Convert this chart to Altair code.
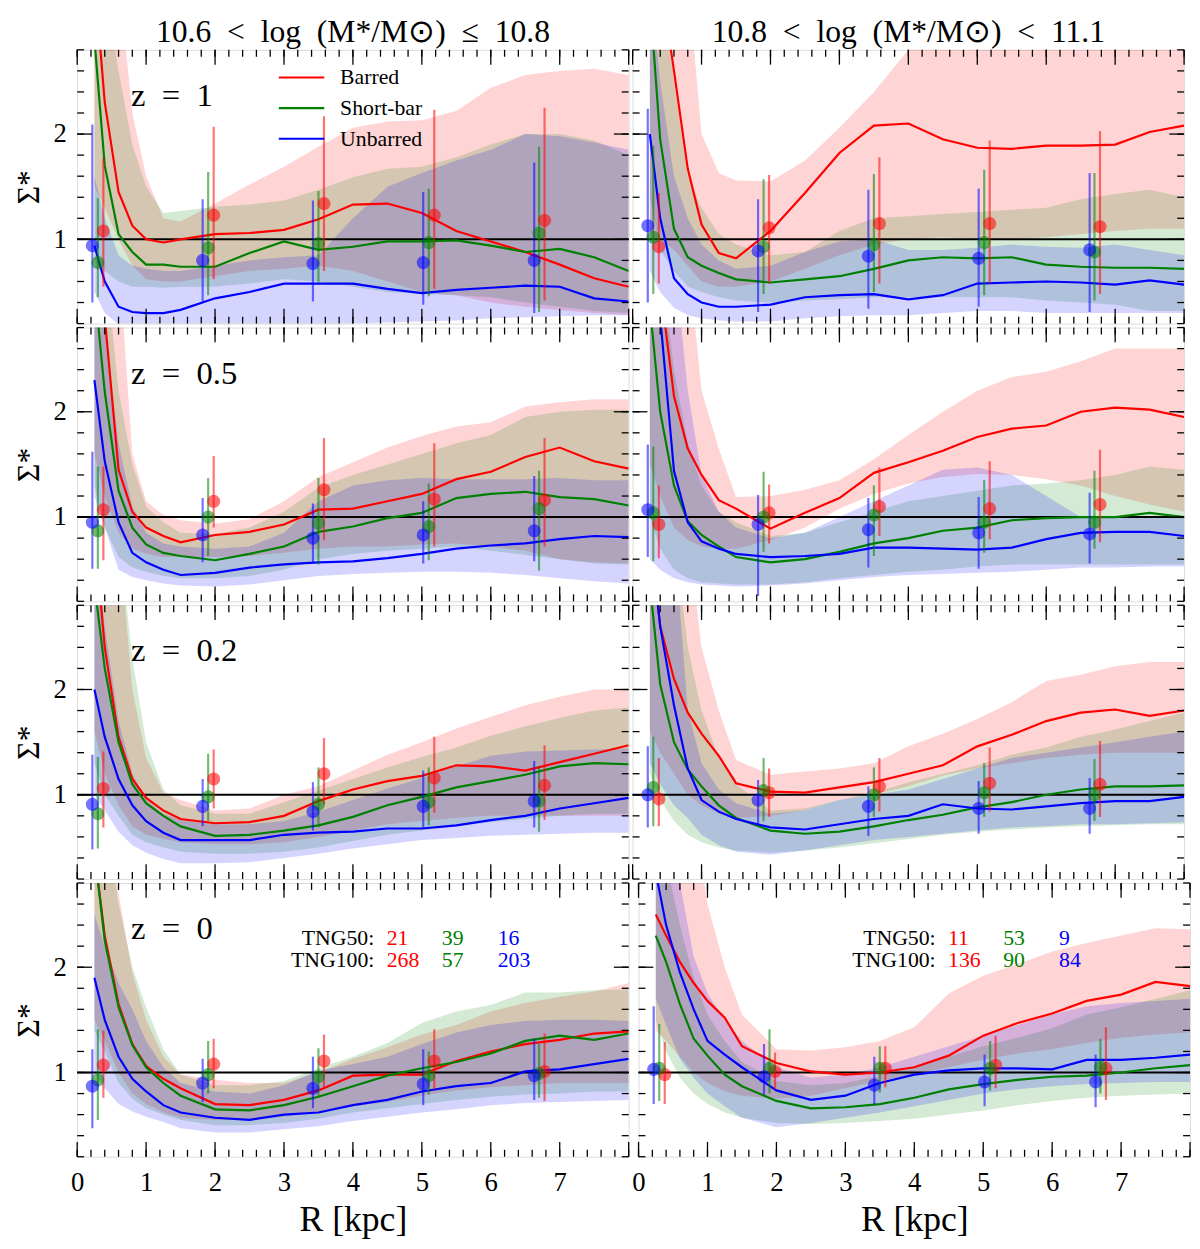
import altair as alt
import pandas as pd

FONT = "Liberation Serif"

SERIES = ["Barred", "Short-bar", "Unbarred"]
COLORS = ["#ff0000", "#008000", "#0000ff"]

R_GRID = [0.25, 0.4, 0.6, 0.8, 1.0, 1.25, 1.5, 2.0, 2.5, 3.0, 3.5, 4.0, 4.5, 5.0, 5.5, 6.0, 6.5, 7.0, 7.5, 8.0]

PT_R_BARRED = [0.38, 1.98, 3.58, 5.18, 6.78]
PT_R_SHORT = [0.30, 1.90, 3.50, 5.10, 6.70]
PT_R_UNBARRED = [0.22, 1.82, 3.42, 5.02, 6.63]

SP = "\u2002"
COL_TITLES = ["10.6" + SP + "<" + SP + "log" + SP + "(M*/M\u2299)" + SP + "\u2264" + SP + "10.8",
              "10.8" + SP + "<" + SP + "log" + SP + "(M*/M\u2299)" + SP + "<" + SP + "11.1"]
ROW_LABELS = ["z" + SP + "=" + SP + "1", "z" + SP + "=" + SP + "0.5",
              "z" + SP + "=" + SP + "0.2", "z" + SP + "=" + SP + "0"]
SIM_LABELS = ["TNG50:", "TNG100:"]
COUNTS_LEFT = [["21", "39", "16"], ["268", "57", "203"]]
COUNTS_RIGHT = [["11", "53", "9"], ["136", "90", "84"]]

X_MAJOR = [0, 1, 2, 3, 4, 5, 6, 7, 8]
X_MINOR = [round(0.2 * i, 1) for i in range(41)]
Y_MAJOR = [1, 2]
Y_MINOR = [round(0.2 * i, 1) for i in range(1, 15)]

# ---------------- z = 1, low mass ----------------
z1a_bar = [3.5, 2.3, 1.45, 1.13, 1.0, 0.97, 1.0, 1.05, 1.06, 1.09, 1.19, 1.33, 1.34, 1.25, 1.08, 0.98, 0.88, 0.76, 0.63, 0.55]
z1a_bar_lo = [1.5, 1.3, 1.0, 0.75, 0.62, 0.6, 0.6, 0.65, 0.7, 0.72, 0.75, 0.7, 0.6, 0.5, 0.47, 0.4, 0.36, 0.33, 0.3, 0.28]
z1a_bar_hi = [3.5, 3.5, 3.5, 2.2, 1.6, 1.2, 1.17, 1.34, 1.52, 1.69, 1.88, 2.06, 2.12, 2.13, 2.22, 2.44, 2.56, 2.6, 2.62, 2.56]
z1a_sb = [2.9, 1.7, 1.05, 0.88, 0.76, 0.76, 0.74, 0.74, 0.87, 0.98, 0.9, 0.93, 0.98, 0.98, 0.99, 0.94, 0.88, 0.91, 0.83, 0.70]
z1a_sb_lo = [0.8, 0.7, 0.6, 0.55, 0.55, 0.54, 0.55, 0.55, 0.58, 0.62, 0.6, 0.55, 0.5, 0.48, 0.47, 0.45, 0.4, 0.36, 0.32, 0.3]
z1a_sb_hi = [3.5, 3.5, 2.6, 1.9, 1.5, 1.25, 1.27, 1.31, 1.33, 1.37, 1.47, 1.59, 1.67, 1.69, 1.78, 1.9, 2.0, 2.0, 1.94, 1.8]
z1a_ub = [0.94, 0.6, 0.36, 0.31, 0.30, 0.30, 0.33, 0.44, 0.5, 0.58, 0.58, 0.58, 0.53, 0.49, 0.52, 0.54, 0.56, 0.55, 0.44, 0.41]
z1a_ub_lo = [0.5, 0.3, 0.19, 0.18, 0.18, 0.18, 0.18, 0.18, 0.18, 0.18, 0.19, 0.2, 0.21, 0.22, 0.23, 0.25, 0.26, 0.27, 0.28, 0.28]
z1a_ub_hi = [1.6, 1.2, 0.85, 0.75, 0.72, 0.7, 0.7, 0.75, 0.8, 0.83, 0.85, 1.2, 1.5, 1.63, 1.75, 1.85, 2.0, 1.98, 1.92, 1.85]
z1a_bar_pt = [1.08, 1.23, 1.34, 1.23, 1.18]
z1a_bar_pt_lo = [0.55, 0.62, 0.7, 0.53, 0.42]
z1a_bar_pt_hi = [1.77, 2.07, 2.17, 2.23, 2.25]
z1a_sb_pt = [0.78, 0.92, 0.96, 0.97, 1.06]
z1a_sb_pt_lo = [0.45, 0.47, 0.59, 0.46, 0.31]
z1a_sb_pt_hi = [1.39, 1.64, 1.46, 1.48, 1.88]
z1a_ub_pt = [0.94, 0.8, 0.77, 0.78, 0.8]
z1a_ub_pt_lo = [0.4, 0.41, 0.41, 0.38, 0.3]
z1a_ub_pt_hi = [2.09, 1.38, 1.37, 1.45, 1.73]

# ---------------- z = 1, high mass ----------------
z1b_bar = [3.5, 3.5, 2.6, 1.67, 1.14, 0.87, 0.82, 1.08, 1.44, 1.82, 2.08, 2.1, 1.95, 1.87, 1.86, 1.89, 1.89, 1.9, 2.02, 2.08]
z1b_bar_lo = [1.0, 1.0, 0.9, 0.75, 0.6, 0.55, 0.55, 0.6, 0.72, 0.85, 0.95, 1.0, 1.02, 1.0, 1.0, 1.02, 1.05, 1.08, 1.1, 1.1]
z1b_bar_hi = [3.5, 3.5, 3.5, 3.5, 2.0, 1.63, 1.56, 1.55, 1.75, 2.06, 2.4, 2.8, 3.5, 3.5, 3.5, 3.5, 3.5, 3.5, 3.5, 3.5]
z1b_sb = [3.3, 1.95, 1.1, 0.83, 0.75, 0.68, 0.62, 0.59, 0.62, 0.65, 0.72, 0.8, 0.83, 0.82, 0.83, 0.76, 0.74, 0.73, 0.73, 0.72]
z1b_sb_lo = [1.4, 0.9, 0.7, 0.55, 0.5, 0.45, 0.42, 0.4, 0.42, 0.43, 0.45, 0.45, 0.45, 0.45, 0.45, 0.42, 0.4, 0.38, 0.32, 0.32]
z1b_sb_hi = [3.5, 3.5, 2.5, 1.6, 1.3, 1.05, 0.95, 0.85, 0.88, 1.08, 1.2, 1.22, 1.24, 1.26, 1.28, 1.3, 1.38, 1.43, 1.47, 1.4]
z1b_ub = [2.0, 1.2, 0.63, 0.48, 0.4, 0.36, 0.36, 0.38, 0.45, 0.47, 0.48, 0.43, 0.47, 0.58, 0.59, 0.6, 0.59, 0.57, 0.61, 0.57]
z1b_ub_lo = [0.7, 0.5, 0.35, 0.28, 0.25, 0.23, 0.22, 0.22, 0.25, 0.27, 0.28, 0.28, 0.3, 0.32, 0.32, 0.3, 0.3, 0.3, 0.3, 0.3]
z1b_ub_hi = [3.5, 2.5, 1.6, 1.2, 0.95, 0.8, 0.72, 0.75, 0.88, 0.98, 1.0, 0.9, 0.9, 0.92, 0.95, 0.93, 0.92, 0.95, 0.9, 0.85]
z1b_bar_pt = [0.93, 1.11, 1.15, 1.15, 1.12]
z1b_bar_pt_lo = [0.58, 0.58, 0.58, 0.58, 0.48]
z1b_bar_pt_hi = [1.44, 1.61, 1.78, 1.94, 2.03]
z1b_sb_pt = [1.02, 0.93, 0.95, 0.97, 0.88]
z1b_sb_pt_lo = [0.48, 0.48, 0.5, 0.47, 0.42]
z1b_sb_pt_hi = [1.89, 1.57, 1.62, 1.66, 1.63]
z1b_ub_pt = [1.13, 0.89, 0.84, 0.82, 0.9]
z1b_ub_pt_lo = [0.4, 0.31, 0.34, 0.36, 0.31]
z1b_ub_pt_hi = [2.24, 1.38, 1.47, 1.48, 1.63]

# ---------------- z = 0.5, low mass ----------------
z05a_bar = [3.5, 2.9, 1.45, 1.05, 0.9, 0.82, 0.76, 0.83, 0.86, 0.93, 1.07, 1.08, 1.15, 1.22, 1.36, 1.43, 1.57, 1.66, 1.53, 1.46]
z05a_bar_lo = [1.6, 1.2, 0.85, 0.7, 0.65, 0.62, 0.62, 0.62, 0.63, 0.66, 0.7, 0.72, 0.72, 0.74, 0.75, 0.72, 0.68, 0.6, 0.57, 0.56]
z05a_bar_hi = [3.5, 3.5, 3.5, 1.6, 1.15, 1.02, 0.97, 0.94, 0.98, 1.15, 1.38, 1.52, 1.66, 1.77, 1.86, 1.9, 2.05, 2.09, 2.12, 2.12]
z05a_sb = [3.2, 2.19, 1.25, 0.9, 0.74, 0.66, 0.63, 0.59, 0.65, 0.72, 0.86, 0.91, 0.99, 1.04, 1.18, 1.22, 1.24, 1.19, 1.17, 1.11]
z05a_sb_lo = [1.3, 0.9, 0.62, 0.52, 0.48, 0.44, 0.42, 0.42, 0.44, 0.5, 0.6, 0.65, 0.68, 0.7, 0.72, 0.68, 0.64, 0.6, 0.56, 0.55]
z05a_sb_hi = [3.5, 3.5, 2.2, 1.5, 1.1, 0.95, 0.85, 0.84, 0.9, 1.05, 1.28, 1.4, 1.5, 1.6, 1.7, 1.78, 1.95, 2.0, 2.02, 2.02]
z05a_ub = [2.3, 1.53, 0.95, 0.66, 0.57, 0.5, 0.45, 0.47, 0.52, 0.55, 0.57, 0.58, 0.61, 0.65, 0.7, 0.73, 0.75, 0.79, 0.82, 0.81]
z05a_ub_lo = [1.2, 0.9, 0.5, 0.43, 0.4, 0.37, 0.35, 0.34, 0.36, 0.4, 0.44, 0.46, 0.47, 0.48, 0.48, 0.47, 0.45, 0.42, 0.39, 0.37]
z05a_ub_hi = [3.5, 2.8, 1.7, 1.1, 0.85, 0.75, 0.72, 0.7, 0.72, 0.85, 1.15, 1.3, 1.35, 1.37, 1.36, 1.36, 1.36, 1.37, 1.35, 1.35]
z05a_bar_pt = [1.07, 1.15, 1.26, 1.17, 1.16]
z05a_bar_pt_lo = [0.59, 0.9, 0.78, 0.72, 0.72]
z05a_bar_pt_hi = [1.48, 1.58, 1.75, 1.7, 1.75]
z05a_sb_pt = [0.87, 1.0, 0.94, 0.91, 1.08]
z05a_sb_pt_lo = [0.51, 0.63, 0.55, 0.59, 0.49]
z05a_sb_pt_hi = [1.48, 1.37, 1.37, 1.32, 1.44]
z05a_ub_pt = [0.95, 0.83, 0.8, 0.83, 0.87]
z05a_ub_pt_lo = [0.51, 0.57, 0.57, 0.56, 0.58]
z05a_ub_pt_hi = [1.62, 1.18, 1.13, 1.15, 1.39]

# ---------------- z = 0.5, high mass ----------------
z05b_bar = [3.5, 3.2, 2.15, 1.65, 1.4, 1.16, 1.08, 0.89, 1.04, 1.18, 1.42, 1.52, 1.63, 1.76, 1.84, 1.87, 2.0, 2.04, 2.02, 1.95]
z05b_bar_lo = [1.5, 1.2, 0.9, 0.78, 0.72, 0.7, 0.7, 0.78, 0.9, 1.08, 1.22, 1.32, 1.38, 1.41, 1.4, 1.36, 1.3, 1.2, 1.12, 1.05]
z05b_bar_hi = [3.5, 3.5, 3.5, 3.5, 2.2, 1.65, 1.19, 1.2, 1.26, 1.35, 1.55, 1.78, 2.0, 2.2, 2.33, 2.38, 2.48, 2.6, 2.6, 2.6]
z05b_sb = [3.0, 2.0, 1.3, 0.96, 0.83, 0.72, 0.62, 0.57, 0.6, 0.67, 0.75, 0.8, 0.87, 0.9, 0.97, 0.99, 1.0, 1.0, 1.04, 1.0]
z05b_sb_lo = [1.0, 0.7, 0.5, 0.42, 0.38, 0.37, 0.36, 0.36, 0.38, 0.42, 0.45, 0.48, 0.5, 0.53, 0.55, 0.55, 0.55, 0.55, 0.55, 0.55]
z05b_sb_hi = [3.5, 3.5, 2.4, 1.7, 1.3, 1.05, 0.95, 0.82, 0.85, 0.95, 1.05, 1.15, 1.2, 1.25, 1.3, 1.32, 1.35, 1.4, 1.48, 1.45]
z05b_ub = [3.5, 2.9, 1.44, 0.95, 0.77, 0.7, 0.65, 0.62, 0.63, 0.65, 0.71, 0.71, 0.7, 0.69, 0.71, 0.79, 0.85, 0.86, 0.86, 0.82]
z05b_ub_lo = [0.6, 0.5, 0.42, 0.38, 0.36, 0.35, 0.34, 0.35, 0.37, 0.4, 0.43, 0.45, 0.46, 0.47, 0.48, 0.5, 0.52, 0.52, 0.53, 0.53]
z05b_ub_hi = [3.5, 3.5, 3.5, 2.2, 1.4, 1.05, 0.9, 0.8, 0.85, 1.0, 1.15, 1.3, 1.45, 1.47, 1.4, 1.2, 1.0, 1.0, 1.0, 1.0]
z05b_bar_pt = [0.93, 1.04, 1.1, 1.08, 1.12]
z05b_bar_pt_lo = [0.61, 0.75, 0.82, 0.79, 0.76]
z05b_bar_pt_hi = [1.3, 1.31, 1.47, 1.53, 1.64]
z05b_sb_pt = [1.04, 1.0, 1.02, 0.95, 0.95]
z05b_sb_pt_lo = [0.58, 0.67, 0.63, 0.66, 0.7]
z05b_sb_pt_hi = [1.67, 1.43, 1.3, 1.35, 1.44]
z05b_ub_pt = [1.07, 0.93, 0.88, 0.85, 0.84]
z05b_ub_pt_lo = [0.62, 0.25, 0.52, 0.51, 0.56]
z05b_ub_pt_hi = [1.69, 1.21, 1.18, 1.19, 1.23]

# ---------------- z = 0.2, low mass ----------------
z02a_bar = [3.5, 2.4, 1.55, 1.15, 0.97, 0.85, 0.77, 0.73, 0.74, 0.8, 0.94, 1.05, 1.13, 1.18, 1.28, 1.27, 1.23, 1.31, 1.39, 1.47]
z02a_bar_lo = [1.6, 1.2, 0.9, 0.7, 0.62, 0.58, 0.55, 0.53, 0.53, 0.55, 0.6, 0.66, 0.72, 0.75, 0.78, 0.8, 0.8, 0.8, 0.8, 0.8]
z02a_bar_hi = [3.5, 3.5, 3.5, 2.0, 1.35, 1.02, 0.95, 0.85, 0.87, 1.0, 1.08, 1.23, 1.38, 1.5, 1.63, 1.74, 1.85, 1.93, 2.0, 2.0]
z02a_sb = [3.0, 2.2, 1.5, 1.1, 0.92, 0.8, 0.7, 0.61, 0.62, 0.66, 0.71, 0.79, 0.9, 0.98, 1.07, 1.13, 1.19, 1.27, 1.3, 1.29]
z02a_sb_lo = [1.3, 1.0, 0.8, 0.62, 0.55, 0.5, 0.46, 0.44, 0.44, 0.46, 0.5, 0.56, 0.62, 0.66, 0.7, 0.74, 0.77, 0.8, 0.82, 0.82]
z02a_sb_hi = [3.5, 3.5, 3.5, 2.3, 1.5, 1.05, 0.9, 0.82, 0.82, 0.93, 1.04, 1.15, 1.26, 1.36, 1.45, 1.56, 1.65, 1.73, 1.8, 1.83]
z02a_ub = [2.0, 1.55, 1.15, 0.9, 0.75, 0.64, 0.57, 0.57, 0.57, 0.62, 0.64, 0.65, 0.68, 0.68, 0.71, 0.76, 0.8, 0.87, 0.92, 0.97]
z02a_ub_lo = [1.0, 0.85, 0.65, 0.52, 0.45, 0.39, 0.35, 0.35, 0.36, 0.4, 0.44, 0.49, 0.53, 0.57, 0.59, 0.61, 0.62, 0.63, 0.64, 0.64]
z02a_ub_hi = [3.5, 2.6, 1.7, 1.2, 0.95, 0.82, 0.76, 0.72, 0.72, 0.75, 0.84, 0.95, 1.06, 1.16, 1.27, 1.37, 1.41, 1.42, 1.43, 1.44]
z02a_bar_pt = [1.06, 1.15, 1.2, 1.16, 1.09]
z02a_bar_pt_lo = [0.69, 0.87, 0.91, 0.83, 0.76]
z02a_bar_pt_hi = [1.41, 1.43, 1.54, 1.55, 1.47]
z02a_sb_pt = [0.82, 0.98, 0.91, 0.93, 0.94]
z02a_sb_pt_lo = [0.49, 0.75, 0.69, 0.71, 0.65]
z02a_sb_pt_hi = [1.36, 1.39, 1.26, 1.26, 1.27]
z02a_ub_pt = [0.91, 0.89, 0.84, 0.89, 0.94]
z02a_ub_pt_lo = [0.48, 0.7, 0.66, 0.69, 0.69]
z02a_ub_pt_hi = [1.38, 1.15, 1.12, 1.23, 1.32]

# ---------------- z = 0.2, high mass ----------------
z02b_bar = [3.5, 2.6, 2.1, 1.78, 1.58, 1.37, 1.11, 1.03, 1.02, 1.07, 1.12, 1.2, 1.28, 1.46, 1.57, 1.7, 1.78, 1.81, 1.75, 1.8]
z02b_bar_lo = [1.6, 1.4, 1.2, 1.0, 0.9, 0.82, 0.78, 0.8, 0.85, 0.95, 1.0, 1.08, 1.18, 1.25, 1.3, 1.35, 1.38, 1.4, 1.4, 1.4]
z02b_bar_hi = [3.5, 3.5, 3.5, 3.5, 2.4, 1.8, 1.33, 1.19, 1.22, 1.25, 1.3, 1.46, 1.58, 1.72, 1.88, 2.08, 2.14, 2.22, 2.26, 2.26]
z02b_sb = [3.0, 2.05, 1.5, 1.24, 1.08, 0.9, 0.78, 0.66, 0.63, 0.65, 0.7, 0.76, 0.81, 0.88, 0.93, 1.0, 1.05, 1.08, 1.08, 1.09]
z02b_sb_lo = [1.2, 0.95, 0.75, 0.62, 0.55, 0.5, 0.47, 0.45, 0.47, 0.5, 0.54, 0.58, 0.62, 0.65, 0.67, 0.69, 0.7, 0.71, 0.72, 0.72]
z02b_sb_hi = [3.5, 3.5, 3.5, 2.4, 1.8, 1.35, 1.1, 0.85, 0.87, 0.95, 1.02, 1.12, 1.2, 1.28, 1.38, 1.45, 1.55, 1.62, 1.7, 1.78]
z02b_ub = [3.5, 2.6, 1.85, 1.25, 0.95, 0.84, 0.77, 0.69, 0.67, 0.72, 0.77, 0.8, 0.91, 0.87, 0.86, 0.89, 0.92, 0.94, 0.94, 0.98]
z02b_ub_lo = [1.3, 1.1, 0.9, 0.78, 0.62, 0.52, 0.46, 0.43, 0.47, 0.52, 0.57, 0.6, 0.63, 0.66, 0.69, 0.7, 0.72, 0.72, 0.73, 0.74]
z02b_ub_hi = [3.5, 3.5, 3.5, 1.8, 1.3, 1.05, 0.92, 0.82, 0.85, 0.95, 1.0, 1.05, 1.15, 1.25, 1.35, 1.4, 1.45, 1.5, 1.55, 1.6]
z02b_bar_pt = [0.96, 1.02, 1.08, 1.11, 1.1]
z02b_bar_pt_lo = [0.7, 0.79, 0.84, 0.84, 0.79]
z02b_bar_pt_hi = [1.35, 1.25, 1.35, 1.45, 1.51]
z02b_sb_pt = [1.07, 1.04, 1.0, 1.02, 1.0]
z02b_sb_pt_lo = [0.7, 0.75, 0.79, 0.79, 0.75]
z02b_sb_pt_hi = [1.55, 1.35, 1.26, 1.3, 1.34]
z02b_ub_pt = [1.0, 0.95, 0.89, 0.87, 0.87]
z02b_ub_pt_lo = [0.69, 0.72, 0.61, 0.63, 0.63]
z02b_ub_pt_hi = [1.46, 1.14, 1.08, 1.13, 1.16]

# ---------------- z = 0, low mass ----------------
z0a_bar = [3.1, 2.3, 1.65, 1.27, 1.06, 0.94, 0.85, 0.7, 0.69, 0.74, 0.83, 0.97, 0.98, 0.98, 1.11, 1.2, 1.27, 1.31, 1.37, 1.39]
z0a_bar_lo = [1.5, 1.3, 1.0, 0.8, 0.7, 0.62, 0.57, 0.55, 0.55, 0.58, 0.62, 0.68, 0.72, 0.78, 0.83, 0.86, 0.88, 0.9, 0.9, 0.9]
z0a_bar_hi = [3.5, 3.5, 2.7, 1.95, 1.5, 1.15, 0.98, 0.93, 0.9, 0.9, 1.0, 1.13, 1.24, 1.36, 1.45, 1.58, 1.66, 1.72, 1.77, 1.85]
z0a_sb = [3.1, 2.25, 1.62, 1.26, 1.05, 0.9, 0.78, 0.65, 0.64, 0.69, 0.77, 0.87, 0.97, 1.04, 1.1, 1.18, 1.3, 1.35, 1.31, 1.37]
z0a_sb_lo = [1.4, 1.2, 0.9, 0.75, 0.66, 0.6, 0.55, 0.5, 0.5, 0.52, 0.56, 0.62, 0.66, 0.7, 0.74, 0.77, 0.79, 0.8, 0.82, 0.82]
z0a_sb_hi = [3.5, 3.5, 2.6, 2.0, 1.62, 1.22, 0.98, 0.88, 0.88, 0.92, 1.04, 1.15, 1.28, 1.47, 1.58, 1.64, 1.76, 1.76, 1.78, 1.79]
z0a_ub = [1.9, 1.5, 1.15, 0.94, 0.82, 0.69, 0.62, 0.57, 0.55, 0.6, 0.62, 0.69, 0.74, 0.82, 0.87, 0.9, 1.01, 1.03, 1.08, 1.13]
z0a_ub_lo = [1.0, 0.85, 0.7, 0.63, 0.58, 0.53, 0.47, 0.43, 0.43, 0.46, 0.49, 0.54, 0.58, 0.62, 0.65, 0.69, 0.71, 0.72, 0.73, 0.74]
z0a_ub_hi = [2.5, 2.2, 1.85, 1.6, 1.3, 1.05, 0.9, 0.82, 0.8, 0.88, 1.02, 1.08, 1.15, 1.27, 1.38, 1.45, 1.49, 1.5, 1.5, 1.49]
z0a_bar_pt = [1.07, 1.08, 1.11, 1.11, 1.01]
z0a_bar_pt_lo = [0.76, 0.85, 0.85, 0.84, 0.73]
z0a_bar_pt_hi = [1.4, 1.32, 1.36, 1.41, 1.37]
z0a_sb_pt = [0.93, 0.98, 0.96, 0.97, 0.99]
z0a_sb_pt_lo = [0.55, 0.8, 0.76, 0.79, 0.76]
z0a_sb_pt_hi = [1.41, 1.3, 1.23, 1.2, 1.27]
z0a_ub_pt = [0.87, 0.9, 0.85, 0.89, 0.97]
z0a_ub_pt_lo = [0.47, 0.72, 0.66, 0.69, 0.74]
z0a_ub_pt_hi = [1.22, 1.13, 1.15, 1.22, 1.32]

# ---------------- z = 0, high mass ----------------
z0b_bar = [2.5, 2.3, 2.05, 1.85, 1.68, 1.52, 1.25, 1.09, 1.01, 0.98, 1.0, 1.05, 1.16, 1.35, 1.47, 1.56, 1.68, 1.74, 1.86, 1.82]
z0b_bar_lo = [1.4, 1.3, 1.15, 1.0, 0.9, 0.82, 0.78, 0.75, 0.78, 0.85, 0.92, 0.98, 1.05, 1.12, 1.18, 1.22, 1.28, 1.33, 1.36, 1.38]
z0b_bar_hi = [3.5, 3.5, 3.5, 3.5, 2.6, 2.0, 1.55, 1.22, 1.21, 1.24, 1.3, 1.43, 1.75, 1.92, 2.03, 2.15, 2.23, 2.3, 2.37, 2.36]
z0b_sb = [2.3, 2.05, 1.65, 1.32, 1.16, 0.98, 0.87, 0.73, 0.66, 0.67, 0.7, 0.76, 0.84, 0.89, 0.93, 0.96, 0.97, 1.0, 1.04, 1.07]
z0b_sb_lo = [1.5, 1.2, 0.95, 0.8, 0.7, 0.62, 0.57, 0.52, 0.51, 0.52, 0.54, 0.56, 0.6, 0.64, 0.69, 0.73, 0.76, 0.78, 0.79, 0.8]
z0b_sb_hi = [3.5, 3.0, 2.4, 1.9, 1.55, 1.3, 1.1, 0.92, 0.88, 0.9, 0.97, 1.05, 1.15, 1.25, 1.33, 1.42, 1.55, 1.62, 1.7, 1.78]
z0b_ub = [2.9, 2.4, 1.95, 1.6, 1.3, 1.17, 1.05, 0.83, 0.74, 0.78, 0.9, 0.98, 1.02, 1.04, 1.04, 1.03, 1.12, 1.12, 1.14, 1.17]
z0b_ub_lo = [1.7, 1.45, 1.13, 0.95, 0.8, 0.68, 0.57, 0.48, 0.52, 0.57, 0.62, 0.68, 0.74, 0.8, 0.84, 0.87, 0.89, 0.9, 0.91, 0.91]
z0b_ub_hi = [3.5, 3.5, 2.8, 2.1, 1.75, 1.5, 1.3, 1.05, 0.95, 0.98, 1.05, 1.15, 1.25, 1.35, 1.45, 1.55, 1.63, 1.66, 1.68, 1.7]
z0b_bar_pt = [0.98, 1.01, 1.04, 1.07, 1.04]
z0b_bar_pt_lo = [0.7, 0.84, 0.86, 0.85, 0.74]
z0b_bar_pt_hi = [1.29, 1.19, 1.25, 1.35, 1.43]
z0b_sb_pt = [1.04, 1.04, 1.04, 1.04, 1.05]
z0b_sb_pt_lo = [0.73, 0.8, 0.81, 0.83, 0.8]
z0b_sb_pt_hi = [1.46, 1.41, 1.25, 1.3, 1.32]
z0b_ub_pt = [1.03, 0.96, 0.88, 0.91, 0.91]
z0b_ub_pt_lo = [0.7, 0.79, 0.7, 0.68, 0.67]
z0b_ub_pt_hi = [1.63, 1.27, 1.15, 1.17, 1.17]

G = globals()
PANEL_KEYS = [["z1a", "z1b"], ["z05a", "z05b"], ["z02a", "z02b"], ["z0a", "z0b"]]
SHORT = {"Barred": "bar", "Short-bar": "sb", "Unbarred": "ub"}
PT_R = {"Barred": PT_R_BARRED, "Short-bar": PT_R_SHORT, "Unbarred": PT_R_UNBARRED}

W, H = 558, 277
XS = alt.Scale(domain=[0, 8], nice=False, zero=False)
YS = alt.Scale(domain=[0.2, 2.8], nice=False, zero=False)
LEN_MAJ, LEN_MIN = 15, 7


def curves_df(key):
    rows = []
    for s, c in zip(SERIES, COLORS):
        p = key + "_" + SHORT[s]
        for r, v, lo, hi in zip(R_GRID, G[p], G[p + "_lo"], G[p + "_hi"]):
            rows.append(dict(R=r, val=v, lo=lo, hi=hi, series=s, col=c))
    return pd.DataFrame(rows)


def points_df(key):
    rows = []
    for s, c in zip(SERIES, COLORS):
        p = key + "_" + SHORT[s] + "_pt"
        for r, v, lo, hi in zip(PT_R[s], G[p], G[p + "_lo"], G[p + "_hi"]):
            rows.append(dict(R=r, val=v, lo=lo, hi=hi, series=s, col=c))
    return pd.DataFrame(rows)


def text_df(row, col):
    rows = []
    if col == 0:
        rows.append(dict(R=0.78, val=2.36, t=ROW_LABELS[row], col="black", size=33, align="left"))
    if row == 3:
        counts = COUNTS_LEFT if col == 0 else COUNTS_RIGHT
        for i, (lab, yv) in enumerate(zip(SIM_LABELS, [2.28, 2.07])):
            rows.append(dict(R=4.31, val=yv, t=lab, col="black", size=22, align="right"))
            for cnt, xv, c in zip(counts[i], [4.49, 5.29, 6.1], COLORS):
                rows.append(dict(R=xv, val=yv, t=cnt, col=c, size=22, align="left"))
    return pd.DataFrame(rows)


def panel(row, col):
    key = PANEL_KEYS[row][col]
    if row == 3:
        xax = alt.Axis(values=X_MAJOR[:8], format="d", title="R [kpc]", labelFontSize=27,
                       titleFontSize=36, labelFont=FONT, titleFont=FONT, titleFontWeight="normal",
                       ticks=False, domain=False, grid=False, labelPadding=13, titlePadding=8,
                       labelColor="black", titleColor="black", labelFlush=False)
    else:
        xax = None
    if col == 0:
        yax = alt.Axis(values=Y_MAJOR, format="d", title="\u03a3*", labelFontSize=27,
                       titleFontSize=32, labelFont=FONT, titleFont=FONT, titleFontWeight="normal",
                       ticks=False, domain=False, grid=False, labelPadding=11, titlePadding=8,
                       labelColor="black", titleColor="black")
    else:
        yax = None

    def X(f):
        return alt.X(f, type="quantitative", scale=XS, axis=xax)

    def Y(f):
        return alt.Y(f, type="quantitative", scale=YS, axis=yax)

    cdf = curves_df(key)
    pdf = points_df(key)

    bands = alt.Chart(cdf).mark_area(opacity=0.17, clip=True).encode(
        x=X("R"), y=Y("lo"), y2="hi", fill=alt.Fill("col:N", scale=None))
    one = alt.Chart(pd.DataFrame({"v": [1]})).mark_rule(color="black", strokeWidth=2).encode(y=Y("v"))
    lines = alt.Chart(cdf).mark_line(strokeWidth=2.2, clip=True).encode(
        x=X("R"), y=Y("val"),
        color=alt.Color("series:N", scale=alt.Scale(domain=SERIES, range=COLORS), sort=SERIES,
                        legend=alt.Legend(orient="none", legendX=216, legendY=17, title=None,
                                          symbolType="M-3,0H3", symbolStrokeWidth=2.2,
                                          symbolSize=235, labelFontSize=22, labelFont=FONT,
                                          labelColor="black", labelOffset=28, rowPadding=9,
                                          padding=0)))
    bars = alt.Chart(pdf).mark_rule(strokeWidth=2.2, opacity=0.55, clip=True).encode(
        x=X("R"), y=Y("lo"), y2="hi", stroke=alt.Stroke("col:N", scale=None))
    dots = alt.Chart(pdf).mark_circle(size=175, opacity=0.55, clip=True).encode(
        x=X("R"), y=Y("val"), fill=alt.Fill("col:N", scale=None))

    layers = [bands, one, lines, bars, dots]

    tdf = text_df(row, col)
    if len(tdf):
        for al in ["left", "right"]:
            sub = tdf[tdf["align"] == al]
            if len(sub) == 0:
                continue
            for sz in sorted(sub["size"].unique()):
                s2 = sub[sub["size"] == sz]
                layers.append(alt.Chart(s2).mark_text(align=al, baseline="middle", font=FONT,
                                                      fontSize=int(sz)).encode(
                    x=X("R"), y=Y("val"), text="t:N", fill=alt.Fill("col:N", scale=None)))

    # inward ticks on all four sides
    for vals, ln in [(X_MINOR, LEN_MIN), (X_MAJOR, LEN_MAJ)]:
        df = pd.DataFrame({"v": vals})
        layers.append(alt.Chart(df).mark_rule(color="black", strokeWidth=1.3).encode(
            x=X("v"), y=alt.value(H - ln), y2=alt.value(H)))
        layers.append(alt.Chart(df).mark_rule(color="black", strokeWidth=1.3).encode(
            x=X("v"), y=alt.value(0), y2=alt.value(ln)))
    for vals, ln in [(Y_MINOR, LEN_MIN), (Y_MAJOR, LEN_MAJ)]:
        df = pd.DataFrame({"v": vals})
        layers.append(alt.Chart(df).mark_rule(color="black", strokeWidth=1.3).encode(
            y=Y("v"), x=alt.value(0), x2=alt.value(ln)))
        layers.append(alt.Chart(df).mark_rule(color="black", strokeWidth=1.3).encode(
            y=Y("v"), x=alt.value(W - ln), x2=alt.value(W)))

    ch = alt.layer(*layers).properties(width=W, height=H)
    if row == 0:
        ch = ch.properties(title=alt.Title(COL_TITLES[col], fontSize=32, font=FONT,
                                           fontWeight="normal", anchor="middle", offset=0,
                                           color="black"))
    return ch


rows = [alt.hconcat(panel(r, 0), panel(r, 1), spacing=0) for r in range(4)]
chart = alt.vconcat(*rows, spacing=0).properties(
    padding={"left": 4, "top": 0, "right": 0, "bottom": 0}).configure_view(
    stroke="black", strokeWidth=1.5).configure(background="white")

chart.save("out.html", embed_options={"renderer": "svg", "actions": False})
